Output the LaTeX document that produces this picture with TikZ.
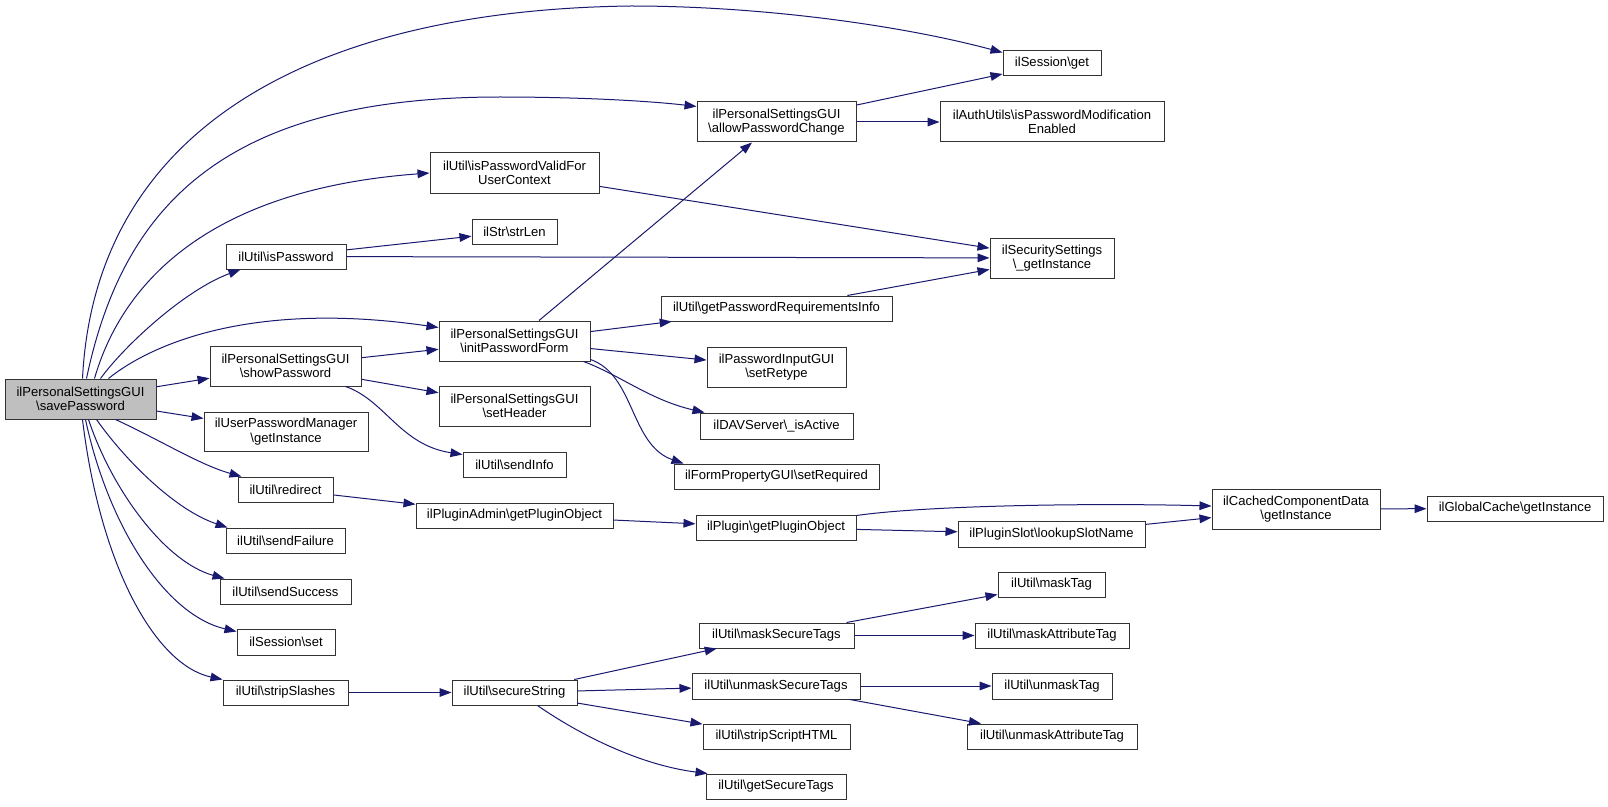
\documentclass[tikz,border=0pt]{standalone}
\usepackage{fontspec}
\setmainfont{Liberation Sans}
\usetikzlibrary{arrows.meta,calc}
\definecolor{navyline}{HTML}{191970}
\definecolor{selgray}{RGB}{191,191,191}
\newcommand\bsl{\textbackslash}
\newcommand\bx[7][]{\node[box,#1,minimum width={(#4-#2)*0.75pt},minimum height={(#5-#3)*0.75pt}] (#7) at ({(#2+#4)/2},{(#3+#5)/2}) {#6};}
\tikzset{
  box/.style={draw=black!80, line width=0.75pt, fill=white, inner sep=0pt, align=center, text=black},
  arr/.style={draw=navyline, line width=0.75pt, -{Triangle[length=9pt,width=6.5pt]}},
}
\begin{document}
\begin{tikzpicture}[x=0.75pt,y=-0.75pt,font=\fontsize{9.8}{10.7}\selectfont]
\fill[white] (0,0) rectangle (1608,806);
\useasboundingbox (0,0) rectangle (1608,806);
% nodes: [opts]{x1}{y1}{x2}{y2}{text}{name}
\bx[fill=selgray]{5}{379}{156}{419}{ilPersonalSettingsGUI\\\bsl savePassword}{save}
\bx{1003}{51}{1101}{76}{ilSession\bsl get}{sget}
\bx{697}{102}{856}{142}{ilPersonalSettingsGUI\\\bsl allowPasswordChange}{apc}
\bx{940}{102}{1164}{142}{ilAuthUtils\bsl isPasswordModification\\Enabled}{auth}
\bx{430}{153}{599}{193}{ilUtil\bsl isPasswordValidFor\\UserContext}{ipv}
\bx{472}{219}{557}{244}{ilStr\bsl strLen}{strlen}
\bx{226}{244}{346}{269}{ilUtil\bsl isPassword}{ispw}
\bx{990}{238}{1114}{278}{ilSecuritySettings\\\bsl \_getInstance}{sec}
\bx{661}{296}{892}{321}{ilUtil\bsl getPasswordRequirementsInfo}{gpri}
\bx{439}{321}{590}{361}{ilPersonalSettingsGUI\\\bsl initPasswordForm}{ipf}
\bx{210}{346}{361}{386}{ilPersonalSettingsGUI\\\bsl showPassword}{show}
\bx{707}{347}{846}{387}{ilPasswordInputGUI\\\bsl setRetype}{retype}
\bx{439}{386}{590}{426}{ilPersonalSettingsGUI\\\bsl setHeader}{header}
\bx{204}{412}{368}{451}{ilUserPasswordManager\\\bsl getInstance}{upm}
\bx{700}{413}{853}{439}{ilDAVServer\bsl \_isActive}{dav}
\bx{463}{452}{566}{477}{ilUtil\bsl sendInfo}{sendinfo}
\bx{674}{464}{879}{489}{ilFormPropertyGUI\bsl setRequired}{setreq}
\bx{238}{477}{333}{502}{ilUtil\bsl redirect}{redirect}
\bx{1212}{489}{1380}{529}{ilCachedComponentData\\\bsl getInstance}{ccd}
\bx{1427}{496}{1603}{521}{ilGlobalCache\bsl getInstance}{gc}
\bx{416}{503}{613}{528}{ilPluginAdmin\bsl getPluginObject}{pao}
\bx{696}{515}{856}{540}{ilPlugin\bsl getPluginObject}{po}
\bx{958}{521}{1145}{547}{ilPluginSlot\bsl lookupSlotName}{slot}
\bx{226}{528}{345}{553}{ilUtil\bsl sendFailure}{failure}
\bx{998}{572}{1105}{597}{ilUtil\bsl maskTag}{masktag}
\bx{220}{579}{351}{604}{ilUtil\bsl sendSuccess}{success}
\bx{699}{623}{854}{648}{ilUtil\bsl maskSecureTags}{mst}
\bx{975}{623}{1129}{648}{ilUtil\bsl maskAttributeTag}{mat}
\bx{237}{629}{335}{655}{ilSession\bsl set}{sset}
\bx{692}{673}{860}{699}{ilUtil\bsl unmaskSecureTags}{ust}
\bx{992}{673}{1112}{699}{ilUtil\bsl unmaskTag}{unmasktag}
\bx{452}{680}{577}{705}{ilUtil\bsl secureString}{secstr}
\bx{223}{680}{348}{705}{ilUtil\bsl stripSlashes}{strip}
\bx{703}{724}{850}{749}{ilUtil\bsl stripScriptHTML}{ssh}
\bx{967}{724}{1137}{749}{ilUtil\bsl unmaskAttributeTag}{umat}
\bx{706}{774}{846}{799}{ilUtil\bsl getSecureTags}{gst}
% curved edges from savePassword
\draw[arr] ($(save.north west)+(78,0)$) .. controls (95,130) and (310,10) .. (631,6) .. controls (760,6) and (900,25) .. ($(sget.north west)+(0,2)$);
\draw[arr] ($(save.north west)+(82,0)$) .. controls (123,205) and (225,97) .. (500,97) .. controls (580,97) and (650,101) .. ($(apc.north west)+(0,5)$);
\draw[arr] ($(save.north west)+(90,0)$) .. controls (120,290) and (200,190) .. (ipv.west);
\draw[arr] ($(save.north west)+(96,0)$) .. controls (125,345) and (185,290) .. ($(ispw.south west)+(15,0)$);
\draw[arr] ($(save.north west)+(104,0)$) .. controls (150,345) and (250,300) .. ($(ipf.north west)+(0,7)$);
\draw[arr] (save) -- (show);
\draw[arr] (save) -- (upm);
\draw[arr] ($(save.south west)+(111,0)$) .. controls (160,440) and (200,465) .. ($(redirect.north west)+(4,0)$);
\draw[arr] ($(save.south west)+(92,0)$) .. controls (125,460) and (175,510) .. ($(failure.north west)+(2,0)$);
\draw[arr] ($(save.south west)+(84,0)$) .. controls (112,490) and (165,562) .. ($(success.north west)+(5,0)$);
\draw[arr] ($(save.south west)+(81,0)$) .. controls (108,525) and (165,615) .. ($(sset.north west)+(0,3)$);
\draw[arr] ($(save.south west)+(78,0)$) .. controls (100,565) and (155,665) .. ($(strip.north west)+(0,0)$);
% other edges
\draw[arr] (apc) -- (sget);
\draw[arr] (apc) -- (auth);
\draw[arr] (ipv) -- (sec);
\draw[arr] (ispw) -- (strlen);
\draw[arr] (ispw) -- (sec);
\draw[arr] (ipf) -- (apc);
\draw[arr] (gpri) -- (sec);
\draw[arr] (ipf) -- (gpri);
\draw[arr] (ipf) -- (retype);
\draw[arr] ($(ipf.south east)+(-7,0)$) .. controls (620,375) and (650,400) .. ($(dav.north west)+(5,0)$);
\draw[arr] ($(ipf.south east)+(0,-2)$) .. controls (635,375) and (630,445) .. ($(setreq.north west)+(10,0)$);
\draw[arr] (show) -- (ipf);
\draw[arr] (show) -- (header);
\draw[arr] ($(show.south east)+(-16,0)$) .. controls (385,400) and (400,445) .. ($(sendinfo.north west)+(0,3)$);
\draw[arr] (redirect) -- (pao);
\draw[arr] (pao) -- (po);
\draw[arr] ($(po.north east)+(0,1)$) .. controls (930,505) and (1100,503) .. ($(ccd.west)+(0,-3)$);
\draw[arr] (po) -- (slot);
\draw[arr] (slot) -- (ccd);
\draw[arr] (ccd) -- (gc);
\draw[arr] (strip) -- (secstr);
\draw[arr] (secstr) -- (mst);
\draw[arr] (secstr) -- (ust);
\draw[arr] (secstr) -- (ssh);
\draw[arr] ($(secstr.south west)+(86,0)$) .. controls (580,735) and (640,765) .. ($(gst.north west)+(2,0)$);
\draw[arr] (mst) -- (masktag);
\draw[arr] (mst) -- (mat);
\draw[arr] (ust) -- (unmasktag);
\draw[arr] (ust) -- (umat);
\end{tikzpicture}
\end{document}
